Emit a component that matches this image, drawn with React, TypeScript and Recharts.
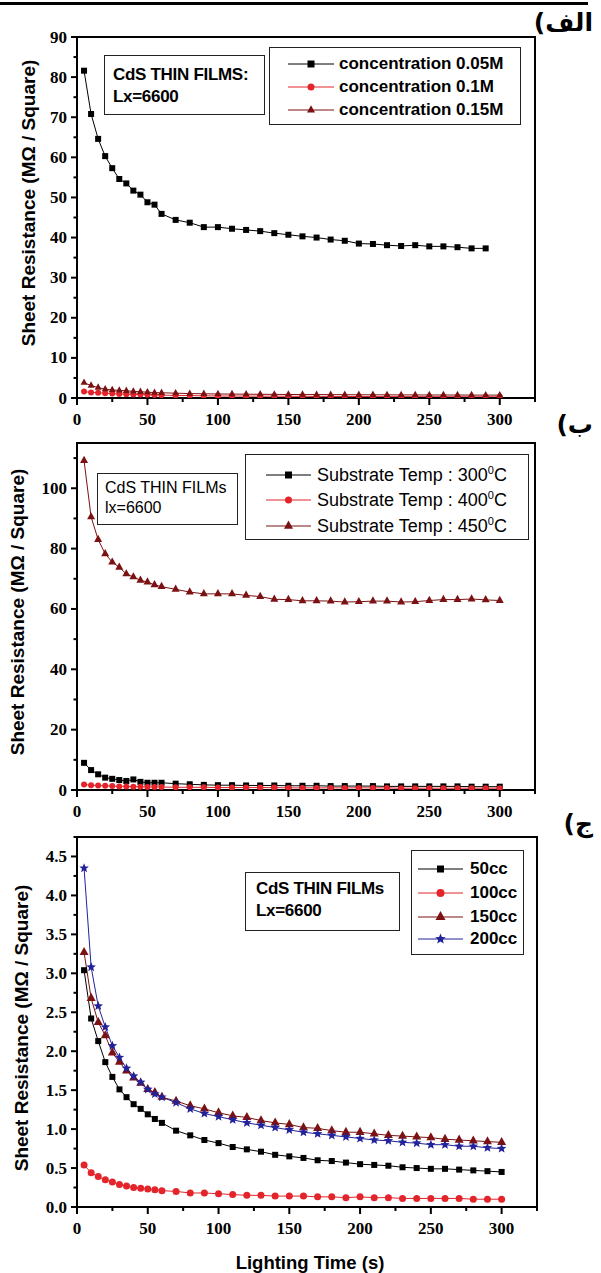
import React from "react";
import { LineChart, Line, XAxis, YAxis, ReferenceArea, Legend } from "recharts";

// lighting time (s)
const times = [5, 10, 15, 20, 25, 30, 35, 40, 45, 50, 55, 60, 70, 80, 90, 100, 110, 120, 130, 140, 150, 160, 170, 180, 190, 200, 210, 220, 230, 240, 250, 260, 270, 280, 290, 300];

// (الف) concentration
const conc005 = [81.6, 70.8, 64.6, 60.3, 57.3, 54.6, 53.5, 51.7, 50.7, 48.8, 48.2, 45.9, 44.4, 43.7, 42.6, 42.6, 42.2, 41.9, 41.6, 41.1, 40.7, 40.3, 40.0, 39.5, 39.2, 38.5, 38.4, 38.1, 37.9, 38.1, 37.8, 37.8, 37.6, 37.3, 37.3, null];
const conc01 = [1.6, 1.4, 1.3, 1.2, 1.1, 1.0, 0.95, 0.9, 0.85, 0.8, 0.75, 0.7, 0.65, 0.6, 0.55, 0.5, 0.5, 0.48, 0.46, 0.45, 0.44, 0.42, 0.4, 0.4, 0.38, 0.37, 0.36, 0.35, 0.34, 0.33, 0.33, 0.32, 0.31, 0.3, 0.3, 0.3];
const conc015 = [3.8, 3.1, 2.6, 2.2, 2.0, 1.9, 1.8, 1.65, 1.55, 1.45, 1.35, 1.3, 1.2, 1.1, 1.05, 1.0, 0.98, 0.95, 0.93, 0.9, 0.88, 0.86, 0.85, 0.84, 0.82, 0.8, 0.8, 0.78, 0.77, 0.76, 0.75, 0.75, 0.74, 0.73, 0.72, 0.72];

// (ب) substrate temperature
const temp300 = [9.0, 6.6, 5.2, 4.1, 3.7, 3.3, 3.0, 3.5, 2.7, 2.4, 2.4, 2.4, 2.1, 1.9, 1.7, 1.6, 1.6, 1.5, 1.5, 1.5, 1.4, 1.4, 1.4, 1.3, 1.3, 1.3, 1.3, 1.2, 1.2, 1.2, 1.2, 1.2, 1.2, 1.1, 1.1, 1.1];
const temp400 = [1.8, 1.6, 1.5, 1.4, 1.3, 1.2, 1.2, 1.1, 1.1, 1.0, 1.0, 1.0, 0.9, 0.9, 0.9, 0.8, 0.8, 0.8, 0.8, 0.8, 0.7, 0.7, 0.7, 0.7, 0.7, 0.7, 0.7, 0.7, 0.6, 0.6, 0.6, 0.6, 0.6, 0.6, 0.6, 0.6];
const temp450 = [109.2, 90.5, 83.0, 78.3, 75.5, 73.8, 71.6, 70.6, 69.5, 68.9, 68.0, 67.4, 66.5, 65.6, 65.0, 65.0, 65.0, 64.5, 64.1, 63.2, 63.1, 62.7, 62.7, 62.6, 62.3, 62.4, 62.6, 62.6, 62.3, 62.4, 62.8, 63.1, 63.1, 63.3, 63.0, 62.8];

// (ج) volume
const cc50 = [3.04, 2.42, 2.13, 1.86, 1.67, 1.51, 1.41, 1.32, 1.26, 1.19, 1.13, 1.08, 0.98, 0.92, 0.86, 0.82, 0.77, 0.74, 0.71, 0.67, 0.65, 0.63, 0.6, 0.59, 0.57, 0.55, 0.54, 0.53, 0.51, 0.5, 0.49, 0.49, 0.48, 0.47, 0.46, 0.45];
const cc100 = [0.54, 0.44, 0.39, 0.35, 0.32, 0.29, 0.27, 0.25, 0.24, 0.23, 0.22, 0.21, 0.2, 0.18, 0.18, 0.17, 0.16, 0.15, 0.15, 0.14, 0.14, 0.14, 0.13, 0.13, 0.12, 0.13, 0.12, 0.12, 0.11, 0.11, 0.11, 0.11, 0.11, 0.1, 0.1, 0.1];
const cc150 = [3.27, 2.68, 2.37, 2.2, 1.98, 1.86, 1.75, 1.66, 1.59, 1.51, 1.47, 1.41, 1.36, 1.3, 1.26, 1.21, 1.17, 1.15, 1.11, 1.08, 1.06, 1.02, 1.01, 0.98, 0.96, 0.96, 0.94, 0.92, 0.91, 0.9, 0.89, 0.87, 0.86, 0.85, 0.84, 0.83];
const cc200 = [4.35, 3.08, 2.58, 2.31, 2.07, 1.92, 1.78, 1.68, 1.6, 1.51, 1.45, 1.41, 1.34, 1.26, 1.2, 1.16, 1.12, 1.08, 1.05, 1.02, 0.99, 0.96, 0.94, 0.92, 0.9, 0.88, 0.86, 0.85, 0.83, 0.82, 0.8, 0.8, 0.78, 0.78, 0.76, 0.75];

const xTicks = [0, 25, 50, 75, 100, 125, 150, 175, 200, 225, 250, 275, 300, 325];
const yTicks1 = [0, 5, 10, 15, 20, 25, 30, 35, 40, 45, 50, 55, 60, 65, 70, 75, 80, 85, 90];
const yTicks2 = [0, 10, 20, 30, 40, 50, 60, 70, 80, 90, 100, 110];
const yTicks3 = [0, 0.25, 0.5, 0.75, 1, 1.25, 1.5, 1.75, 2, 2.25, 2.5, 2.75, 3, 3.25, 3.5, 3.75, 4, 4.25, 4.5, 4.75];

const SANS = "'Liberation Sans', Arial, sans-serif";
const SERIF = "'Liberation Serif', 'Times New Roman', serif";
const BLACK = "#000000";
const RED = "#e3242b";
const MAROON = "#7b1113";
const BLUE = "#22229a";

type Shape = "square" | "circle" | "triangle" | "star";
type Series = { key: string; name: React.ReactNode; color: string; shape: Shape; size: number };

function Mark({ shape, x, y, size, color }: { shape: Shape; x: number; y: number; size: number; color: string }) {
  if (shape === "square") return <rect x={x - size / 2} y={y - size / 2} width={size} height={size} fill={color} />;
  if (shape === "circle") return <circle cx={x} cy={y} r={size / 2} fill={color} />;
  if (shape === "triangle") {
    const h = size * 0.9;
    return <polygon points={`${x},${y - (2 * h) / 3} ${x - size / 2},${y + h / 3} ${x + size / 2},${y + h / 3}`} fill={color} />;
  }
  const pts: string[] = [];
  for (let k = 0; k < 10; k++) {
    const r = k % 2 === 0 ? size / 2 : size * 0.22;
    const a = -Math.PI / 2 + (k * Math.PI) / 5;
    pts.push(`${x + r * Math.cos(a)},${y + r * Math.sin(a)}`);
  }
  return <polygon points={pts.join(" ")} fill={color} />;
}

const sup = (t: string) => (
  <span>
    {t}
    <span style={{ fontSize: 11, position: "relative", top: -7 }}>0</span>C
  </span>
);

const series1: Series[] = [
  { key: "a", name: "concentration 0.05M", color: BLACK, shape: "square", size: 6 },
  { key: "b", name: "concentration 0.1M", color: RED, shape: "circle", size: 6 },
  { key: "c", name: "concentration 0.15M", color: MAROON, shape: "triangle", size: 7 },
];
const series2: Series[] = [
  { key: "a", name: sup("Substrate Temp : 300"), color: BLACK, shape: "square", size: 6 },
  { key: "b", name: sup("Substrate Temp : 400"), color: RED, shape: "circle", size: 6 },
  { key: "c", name: sup("Substrate Temp : 450"), color: MAROON, shape: "triangle", size: 8 },
];
const series3: Series[] = [
  { key: "a", name: "50cc", color: BLACK, shape: "square", size: 6 },
  { key: "b", name: "100cc", color: RED, shape: "circle", size: 7 },
  { key: "c", name: "150cc", color: MAROON, shape: "triangle", size: 9 },
  { key: "d", name: "200cc", color: BLUE, shape: "star", size: 10 },
];

const rows1 = times.map((t, i) => ({ t, a: conc005[i], b: conc01[i], c: conc015[i] }));
const rows2 = times.map((t, i) => ({ t, a: temp300[i], b: temp400[i], c: temp450[i] }));
const rows3 = times.map((t, i) => ({ t, a: cc50[i], b: cc100[i], c: cc150[i], d: cc200[i] }));

type LegendSpec = { left: number; top: number; width: number; height: number; lineX: number; lineLen: number; textX: number; rows: number[]; bold: boolean; fontSize: number };

function LegendBox({ spec, series }: { spec: LegendSpec; series: Series[] }) {
  return (
    <div style={{ position: "relative", width: spec.width, height: spec.height, boxSizing: "border-box", border: "1.5px solid #222", background: "#fff" }}>
      {series.map((s, i) => (
        <div key={s.key} style={{ position: "absolute", left: 0, top: spec.rows[i] - 12, height: 24, width: spec.width }}>
          <svg width={spec.lineLen} height={24} style={{ position: "absolute", left: spec.lineX, top: 0 }}>
            <line x1={0} x2={spec.lineLen} y1={12} y2={12} stroke={s.color} strokeWidth={1} />
            <Mark shape={s.shape} x={spec.lineLen / 2} y={12} size={s.size + 1} color={s.color} />
          </svg>
          <div style={{ position: "absolute", left: spec.textX, top: 0, lineHeight: "24px", fontFamily: SANS, fontSize: spec.fontSize, fontWeight: spec.bold ? 700 : 400, whiteSpace: "nowrap", color: "#000" }}>
            {s.name}
          </div>
        </div>
      ))}
    </div>
  );
}

type PanelProps = {
  top: number;
  height: number;
  margin: { top: number; right: number; bottom: number };
  data: any[];
  series: Series[];
  yMax: number;
  yTicks: number[];
  isMajor: (v: number) => boolean;
  fmt: (v: number) => string;
  ylabX: number;
  ylabY: number;
  legend: LegendSpec;
  note: { left: number; top: number; width: number; height: number; padTop: number; padLeft: number; lines: string[]; bold: boolean; fontSize: number; lineHeight: number };
  xTitle?: { x: number; y: number };
};

function Panel(p: PanelProps) {
  const XTick = (props: any) => {
    const { x, y, payload } = props;
    const major = payload.value % 50 === 0;
    return (
      <g>
        <line x1={x} x2={x} y1={y} y2={y + (major ? 7 : 4)} stroke="#000" strokeWidth={2} />
        {major && (
          <text x={x} y={y + 27} textAnchor="middle" fontFamily={SERIF} fontWeight={700} fontSize={17} fill="#000">
            {payload.value}
          </text>
        )}
      </g>
    );
  };
  const YTick = (props: any) => {
    const { x, y, payload } = props;
    const major = p.isMajor(payload.value);
    return (
      <g>
        <line x1={x} x2={x - (major ? 6 : 3.5)} y1={y} y2={y} stroke="#000" strokeWidth={2} />
        {major && (
          <text x={x - 10} y={y + 5.5} textAnchor="end" fontFamily={SERIF} fontWeight={700} fontSize={17} fill="#000">
            {p.fmt(payload.value)}
          </text>
        )}
      </g>
    );
  };
  const n = p.note;
  return (
    <div style={{ position: "absolute", left: 0, top: p.top, width: 601, height: p.height }}>
      <LineChart width={601} height={p.height} data={p.data} margin={{ ...p.margin, left: 0 }} style={{ overflow: "visible" }}>
        <XAxis
          dataKey="t"
          type="number"
          domain={[0, 325]}
          ticks={xTicks}
          interval={0}
          height={30}
          tickSize={0}
          tickMargin={0}
          tickLine={false}
          tick={XTick}
          axisLine={{ stroke: "#000", strokeWidth: 2 }}
          allowDataOverflow
          label={
            p.xTitle
              ? {
                  content: () => (
                    <text x={p.xTitle!.x} y={p.xTitle!.y} textAnchor="middle" dominantBaseline="central" fontFamily={SANS} fontWeight={700} fontSize={18.5} fill="#000">
                      Lighting Time (s)
                    </text>
                  ),
                }
              : undefined
          }
        />
        <YAxis
          type="number"
          domain={[0, p.yMax]}
          ticks={p.yTicks}
          interval={0}
          width={77}
          tickSize={0}
          tickMargin={0}
          tickLine={false}
          tick={YTick}
          axisLine={{ stroke: "#000", strokeWidth: 2 }}
          allowDataOverflow
          label={{
            content: () => (
              <text
                x={p.ylabX}
                y={p.ylabY}
                transform={`rotate(-90 ${p.ylabX} ${p.ylabY})`}
                textAnchor="middle"
                dominantBaseline="central"
                fontFamily={SANS}
                fontWeight={700}
                fontSize={19}
                fill="#000"
              >
                Sheet Resistance (MΩ / Square)
              </text>
            ),
          }}
        />
        <ReferenceArea x1={0} x2={325} y1={0} y2={p.yMax} fill="none" fillOpacity={0} stroke="#000" strokeWidth={2} />
        <Legend
          layout="horizontal"
          verticalAlign="middle"
          align="center"
          wrapperStyle={{ left: p.legend.left, top: p.legend.top - p.top, width: p.legend.width, height: p.legend.height }}
          content={() => <LegendBox spec={p.legend} series={p.series} />}
        />
        {p.series.map((s) => (
          <Line
            key={s.key}
            type="linear"
            dataKey={s.key}
            stroke={s.color}
            strokeWidth={1}
            isAnimationActive={false}
            legendType="none"
            dot={(d: any) =>
              d.cx == null || d.cy == null || d.value == null ? (
                <g key={`${s.key}-${d.index}`} />
              ) : (
                <Mark key={`${s.key}-${d.index}`} shape={s.shape} x={d.cx} y={d.cy} size={s.size} color={s.color} />
              )
            }
            activeDot={false}
          />
        ))}
      </LineChart>
      <div
        style={{
          position: "absolute",
          left: n.left,
          top: n.top - p.top,
          width: n.width,
          height: n.height,
          boxSizing: "border-box",
          border: "1.5px solid #222",
          background: "#fff",
          paddingTop: n.padTop,
          paddingLeft: n.padLeft,
          fontFamily: SANS,
          fontWeight: n.bold ? 700 : 400,
          fontSize: n.fontSize,
          lineHeight: `${n.lineHeight}px`,
          color: "#000",
          whiteSpace: "nowrap",
          letterSpacing: n.bold ? -0.3 : 0,
        }}
      >
        {n.lines.map((l) => (
          <div key={l}>{l}</div>
        ))}
      </div>
    </div>
  );
}

const arabic = (text: string, y: number) => (
  <div
    style={{
      position: "absolute",
      right: 601 - 593,
      top: y - 17,
      height: 34,
      lineHeight: "34px",
      fontFamily: "'DejaVu Sans', sans-serif",
      fontWeight: 700,
      fontSize: 25,
      direction: "rtl",
      color: "#000",
    }}
  >
    {text}
  </div>
);

export default function App() {
  return (
    <div style={{ position: "absolute", left: 0, top: 0, width: 601, height: 1273, background: "#fff", overflow: "hidden" }}>
      <div style={{ position: "absolute", left: 0, top: 2, width: 588, height: 3, background: "#000" }} />
      <Panel
        top={0}
        height={432}
        margin={{ top: 37, right: 66, bottom: 4 }}
        data={rows1}
        series={series1}
        yMax={90}
        yTicks={yTicks1}
        isMajor={(v) => v % 10 === 0}
        fmt={(v) => String(v)}
        ylabX={28}
        ylabY={203}
        legend={{ left: 269, top: 47, width: 252, height: 78, lineX: 18, lineLen: 46, textX: 69, rows: [16, 39, 62], bold: true, fontSize: 17 }}
        note={{ left: 104, top: 55, width: 161, height: 60, padTop: 8, padLeft: 8, lines: ["CdS THIN FILMS:", "Lx=6600"], bold: true, fontSize: 17, lineHeight: 22 }}
      />
      <Panel
        top={432}
        height={400}
        margin={{ top: 11, right: 66, bottom: 12 }}
        data={rows2}
        series={series2}
        yMax={115}
        yTicks={yTicks2}
        isMajor={(v) => v % 20 === 0}
        fmt={(v) => String(v)}
        ylabX={17}
        ylabY={180}
        legend={{ left: 245, top: 454, width: 284, height: 86, lineX: 20, lineLen: 45, textX: 71, rows: [20, 45, 71], bold: false, fontSize: 18 }}
        note={{ left: 97, top: 473, width: 141, height: 52, padTop: 4, padLeft: 7, lines: ["CdS THIN FILMs", "lx=6600"], bold: false, fontSize: 16, lineHeight: 20 }}
      />
      <Panel
        top={820}
        height={453}
        margin={{ top: 17, right: 64, bottom: 36 }}
        data={rows3}
        series={series3}
        yMax={4.75}
        yTicks={yTicks3}
        isMajor={(v) => Math.abs(v * 2 - Math.round(v * 2)) < 1e-6}
        fmt={(v) => v.toFixed(1)}
        ylabX={21}
        ylabY={208}
        xTitle={{ x: 310, y: 442 }}
        legend={{ left: 411, top: 850, width: 113, height: 105, lineX: 6, lineLen: 45, textX: 58, rows: [18, 42, 66, 88], bold: true, fontSize: 17 }}
        note={{ left: 245, top: 872, width: 155, height: 59, padTop: 5, padLeft: 10, lines: ["CdS THIN FILMs", "Lx=6600"], bold: true, fontSize: 17, lineHeight: 22 }}
      />
      {arabic("الف)", 23)}
      {arabic("ب)", 425)}
      {arabic("ج)", 824)}
    </div>
  );
}
